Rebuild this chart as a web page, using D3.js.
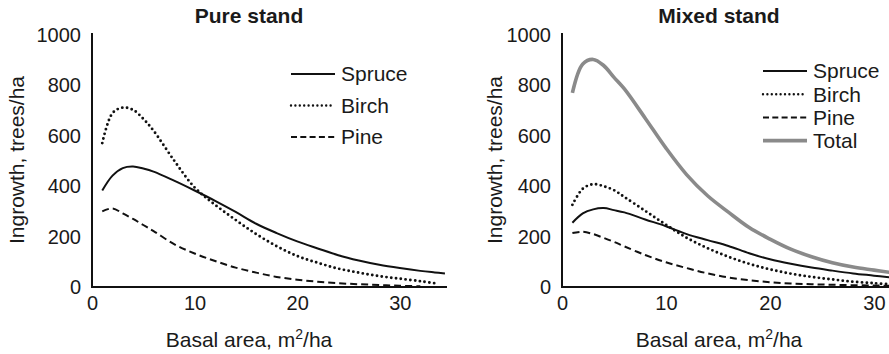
<!DOCTYPE html>
<html lang="en">

<head>
    <meta charset="utf-8">
    <title>ingrowth</title>
    <style>
        body {
            margin: 0;
            background: #fff;
        }

        svg text {
            font-family: "Liberation Sans", Arial, sans-serif;
            fill: #1a1a1a;
        }

        .axis path {
            stroke: #111;
            stroke-width: 2;
        }

        .axis text {
            font-size: 20px;
        }

        .title {
            font-size: 21px;
            font-weight: bold;
        }

        .label,
        .legend text {
            font-size: 21px;
        }
    </style>
</head>

<body>
    <div id="chart"></div>
    <script src="https://cdn.jsdelivr.net/npm/d3@7"></script>
    <script>
        // pure stand
        var pureBasal = [1, 2, 3, 4, 5, 6, 8, 10, 12, 14, 16, 18, 20, 22, 24, 26, 28, 30, 32, 33.4, 34.4];
        var pureSpruce = [383, 442, 472, 478, 470, 458, 422, 383, 342, 298, 251, 214, 181, 153, 126, 105, 88, 75, 64, 58, 54];
        var pureBirch = [571, 690, 712, 703, 667, 620, 502, 395, 326, 266, 210, 162, 123, 96, 73, 57, 43, 33, 23, 15, null];
        var purePine = [300, 312, 292, 270, 246, 222, 170, 133, 103, 77, 57, 40, 29, 21, 15, 11, 8, 5, 3, null, null];

        // mixed stand
        var mixedBasal = [1, 2, 3, 4, 5, 6, 8, 10, 12, 14, 16, 18, 20, 22, 24, 26, 28, 30, 31.5];
        var mixedSpruce = [255, 292, 308, 313, 305, 296, 268, 241, 210, 186, 163, 134, 110, 92, 77, 65, 54, 45, 38];
        var mixedBirch = [326, 390, 408, 400, 384, 357, 302, 247, 195, 154, 120, 92, 70, 53, 40, 30, 21, 15, 11];
        var mixedPine = [214, 219, 210, 195, 179, 161, 127, 98, 75, 54, 38, 27, 19, 14, 11, 9, 7, 6, 5];
        var mixedTotal = [770, 885, 903, 879, 832, 786, 670, 551, 445, 362, 297, 236, 190, 150, 120, 96, 79, 67, 58];

        var yTicks = [0, 200, 400, 600, 800, 1000];
        var xTicks = [0, 10, 20, 30];
        var pureNames = ['Spruce', 'Birch', 'Pine'];
        var mixedNames = ['Spruce', 'Birch', 'Pine', 'Total'];

        var styles = {
            Spruce: { color: '#111', width: 2, dash: null, cap: 'butt' },
            Birch: { color: '#111', width: 2.9, dash: '0 4.8', cap: 'round' },
            Pine: { color: '#111', width: 2, dash: '7 4', cap: 'butt' },
            Total: { color: '#8a8a8a', width: 3.6, dash: null, cap: 'butt' }
        };

        var svg = d3.select('#chart')
            .append('svg')
            .attr('width', 889)
            .attr('height', 354);

        function drawPanel(p) {
            var xScale = d3.scaleLinear().domain([0, p.xMax]).range([p.left, p.right]);
            var yScale = d3.scaleLinear().domain([0, 1000]).range([287, 35]);

            var g = svg.append('g');

            var line = d3.line()
                .defined((d) => d[1] != null)
                .x((d) => xScale(d[0]))
                .y((d) => yScale(d[1]))
                .curve(d3.curveCatmullRom.alpha(0.5));

            p.series.forEach((s) => {
                var st = styles[s.name];
                g.append('path')
                    .datum(p.basal.map((b, i) => [b, s.values[i]]))
                    .attr('d', line)
                    .attr('fill', 'none')
                    .attr('stroke', st.color)
                    .attr('stroke-width', st.width)
                    .attr('stroke-linecap', st.cap)
                    .attr('stroke-dasharray', st.dash);
            });

            var xAxis = d3.axisBottom(xScale).tickValues(xTicks).tickSize(0).tickSizeOuter(0).tickPadding(9)
                .tickFormat(d3.format('d'));
            var yAxis = d3.axisLeft(yScale).tickValues(yTicks).tickSize(0).tickSizeOuter(0).tickPadding(11)
                .tickFormat(d3.format('d'));

            g.append('g')
                .attr('class', 'axis')
                .attr('transform', `translate(0,287)`)
                .call(xAxis)
                .call((a) => a.select('.domain').attr('d', `M${p.left - 1},0H${p.right}`));

            g.append('g')
                .attr('class', 'axis')
                .attr('transform', `translate(${p.left},0)`)
                .call(yAxis)
                .call((a) => a.select('.domain').attr('d', `M0,33V288`));

            g.selectAll('.axis text').style('font-family', '"Liberation Sans", Arial, sans-serif');

            g.append('text')
                .attr('class', 'title')
                .attr('x', p.titleX)
                .attr('y', 23)
                .attr('text-anchor', 'middle')
                .text(p.title);

            var xl = g.append('text')
                .attr('class', 'label')
                .attr('x', p.xLabelX)
                .attr('y', 347)
                .attr('text-anchor', 'middle')
                .text('Basal area, m');
            xl.append('tspan').attr('baseline-shift', 'super').style('font-size', '14px').text('2');
            xl.append('tspan').text('/ha');

            g.append('text')
                .attr('class', 'label')
                .attr('transform', `translate(${p.yLabelX},160) rotate(-90)`)
                .attr('dy', '0.35em')
                .attr('text-anchor', 'middle')
                .text('Ingrowth, trees/ha');

            var lg = g.append('g').attr('class', 'legend');
            p.names.forEach((name, i) => {
                var st = styles[name];
                var y = p.legY + i * p.legStep;
                lg.append('line')
                    .attr('x1', p.legX)
                    .attr('x2', p.legX + 44)
                    .attr('y1', y)
                    .attr('y2', y)
                    .attr('stroke', st.color)
                    .attr('stroke-width', name == 'Birch' ? 2.4 : st.width)
                    .attr('stroke-linecap', st.cap)
                    .attr('stroke-dasharray', name == 'Pine' ? '6 3.3' : (name == 'Birch' ? '0 4.4' : st.dash));
                lg.append('text')
                    .attr('x', p.legX + 50)
                    .attr('y', y)
                    .attr('dy', '0.35em')
                    .text(name);
            });
        }

        drawPanel({
            title: 'Pure stand', titleX: 249, xLabelX: 249, yLabelX: 17,
            left: 92, right: 447, xMax: 34.6,
            basal: pureBasal,
            series: [
                { name: 'Spruce', values: pureSpruce },
                { name: 'Birch', values: pureBirch },
                { name: 'Pine', values: purePine }
            ],
            names: pureNames, legX: 291, legY: 74, legStep: 31.5
        });

        drawPanel({
            title: 'Mixed stand', titleX: 719, xLabelX: 719, yLabelX: 495,
            left: 562, right: 890, xMax: 31.54,
            basal: mixedBasal,
            series: [
                { name: 'Total', values: mixedTotal },
                { name: 'Spruce', values: mixedSpruce },
                { name: 'Birch', values: mixedBirch },
                { name: 'Pine', values: mixedPine }
            ],
            names: mixedNames, legX: 763, legY: 71, legStep: 23.2
        });
    </script>
</body>

</html>
